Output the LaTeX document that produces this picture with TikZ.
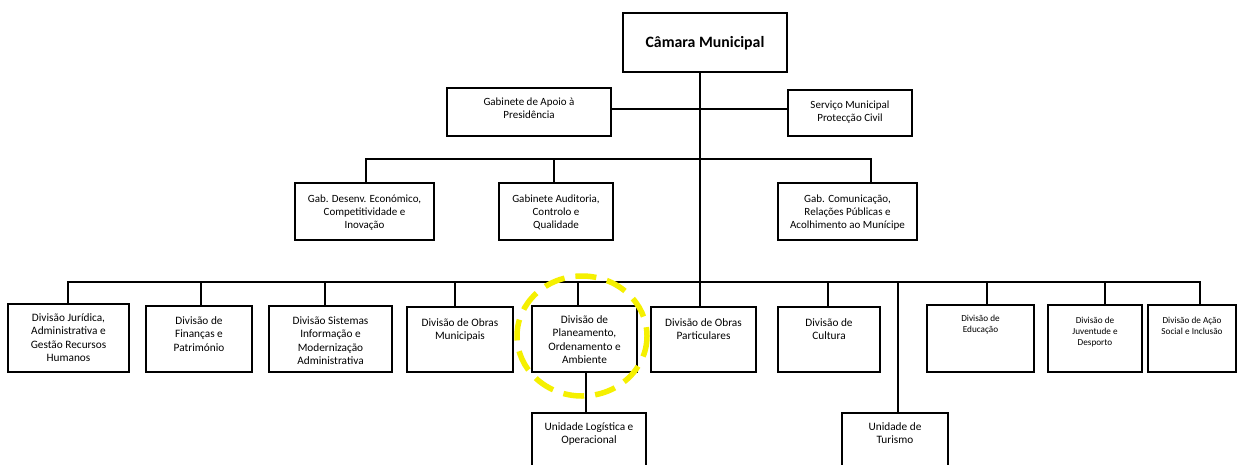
\documentclass[tikz,border=0pt]{standalone}
\usepackage{fontspec}
\setmainfont{Carlito}
\usetikzlibrary{fit}
\definecolor{hl}{RGB}{245,240,0}
\tikzset{
  box/.style={draw, line width=2pt, inner sep=0pt},
  conn/.style={line width=1.8pt},
  txt/.style={align=center, inner sep=0pt, anchor=north, font=\fontsize{11}{13}\selectfont},
  bigtxt/.style={align=center, inner sep=0pt, anchor=north, font=\fontsize{11.3}{13.3}\selectfont},
  smalltxt/.style={align=center, inner sep=0pt, anchor=north, font=\fontsize{9.2}{11}\selectfont},
  mark circle/.style={draw=hl, line width=5.5pt, dash pattern=on 21pt off 11pt}
}
\begin{document}
\begin{tikzpicture}[x=1pt,y=-1pt]
\clip (0,0) rectangle (1238,464);
\fill[white] (0,0) rectangle (1238,464);
% boxes
\node[box, fit={(623,13) (787,72)}] (cam) {};
\node[font=\fontsize{15.8}{18}\selectfont\bfseries, inner sep=0pt] (camt) at (705,43) {Câmara Municipal};
\node[box, fit={(447,88) (611,136)}] (gap) {};
\node[txt] (gapt) at (529,97.5) {Gabinete de Apoio à\\Presidência};
\node[box, fit={(788,90) (912,136)}] (spc) {};
\node[txt] (spct) at (850,100.5) {Serviço Municipal\\Protecção Civil};
\node[box, fit={(295,183) (434,240)}] (gde) {};
\node[txt] (gdet) at (364.5,194.5) {Gab. Desenv. Económico,\\Competitividade e\\Inovação};
\node[box, fit={(499,183) (613,240)}] (gau) {};
\node[txt] (gaut) at (556,194.5) {Gabinete Auditoria,\\Controlo e\\Qualidade};
\node[box, fit={(778,183) (917,240)}] (gco) {};
\node[txt] (gcot) at (847.5,194.5) {Gab. Comunicação,\\Relações Públicas e\\Acolhimento ao Munícipe};
% level 3
\node[box, fit={(8,304) (129,372)}] (jur) {};
\node[bigtxt] (jurt) at (68.5,313.5) {Divisão Jurídica,\\Administrativa e\\Gestão Recursos\\Humanos};
\node[box, fit={(146,306) (252,372)}] (fin) {};
\node[bigtxt] (fint) at (199,316.5) {Divisão de\\Finanças e\\Património};
\node[box, fit={(269,306) (392,372)}] (sis) {};
\node[bigtxt] (sist) at (330.5,316.5) {Divisão Sistemas\\Informação e\\Modernização\\Administrativa};
\node[box, fit={(407,307) (513,372)}] (obm) {};
\node[bigtxt] (obmt) at (460,318.5) {Divisão de Obras\\Municipais};
\node[box, fit={(532,306) (637,372)}] (pla) {};
\node[bigtxt] (plat) at (584.5,315.5) {Divisão de\\Planeamento,\\Ordenamento e\\Ambiente};
\node[box, fit={(651,307) (756,372)}] (obp) {};
\node[bigtxt] (obpt) at (703.5,318.5) {Divisão de Obras\\Particulares};
\node[box, fit={(778,307) (880,372)}] (cul) {};
\node[bigtxt] (cult) at (829,318.5) {Divisão de\\Cultura};
\node[box, fit={(927,305) (1034,372)}] (edu) {};
\node[smalltxt] (edut) at (980.5,314.5) {Divisão de\\Educação};
\node[box, fit={(1048,305) (1142,372)}] (juv) {};
\node[smalltxt] (juvt) at (1095,316.5) {Divisão de\\Juventude e\\Desporto};
\node[box, fit={(1148,305) (1236,372)}] (aca) {};
\node[smalltxt] (acat) at (1192,316.5) {Divisão de Ação\\Social e Inclusão};
% level 4
\node[box, fit={(532,413) (646,480)}] (log) {};
\node[bigtxt] (logt) at (589,422.5) {Unidade Logística e\\Operacional};
\node[box, fit={(842,413) (948,480)}] (tur) {};
\node[bigtxt] (turt) at (895,422.5) {Unidade de\\Turismo};
% junctions
\coordinate (j1) at (700,109);
\coordinate (j2) at (700,159);
\coordinate (j3) at (700,282);
\coordinate (c2l) at (366,159);
\coordinate (c2m) at (554,159);
\coordinate (c2r) at (871,159);
\coordinate (d1) at (68,282);
\coordinate (d2) at (201,282);
\coordinate (d3) at (325,282);
\coordinate (d4) at (455,282);
\coordinate (d5) at (578,282);
\coordinate (d7) at (828,282);
\coordinate (d8) at (898,282);
\coordinate (d9) at (987,282);
\coordinate (d10) at (1105,282);
\coordinate (d11) at (1200,282);
\coordinate (p1) at (586,372);
% connectors
\draw[conn] (cam.south -| j3) -- (j3);
\draw[conn] (gap.east |- j1) -- (spc.west |- j1);
\draw[conn] (c2l |- gde.north) -- (c2l) -- (c2r) -- (c2r |- gco.north);
\draw[conn] (c2m) -- (c2m |- gau.north);
\draw[conn] (d1 |- jur.north) -- (d1) -- (d11) -- (d11 |- aca.north);
\draw[conn] (d2) -- (d2 |- fin.north);
\draw[conn] (d3) -- (d3 |- sis.north);
\draw[conn] (d4) -- (d4 |- obm.north);
\draw[conn] (d5) -- (d5 |- pla.north);
\draw[conn] (j3) -- (j3 |- obp.north);
\draw[conn] (d7) -- (d7 |- cul.north);
\draw[conn] (d8) -- (d8 |- tur.north);
\draw[conn] (d9) -- (d9 |- edu.north);
\draw[conn] (d10) -- (d10 |- juv.north);
\draw[conn] (p1) -- (p1 |- log.north);
% highlight
\draw[mark circle] (582,336) ellipse [x radius=65, y radius=60];
\end{tikzpicture}
\end{document}
